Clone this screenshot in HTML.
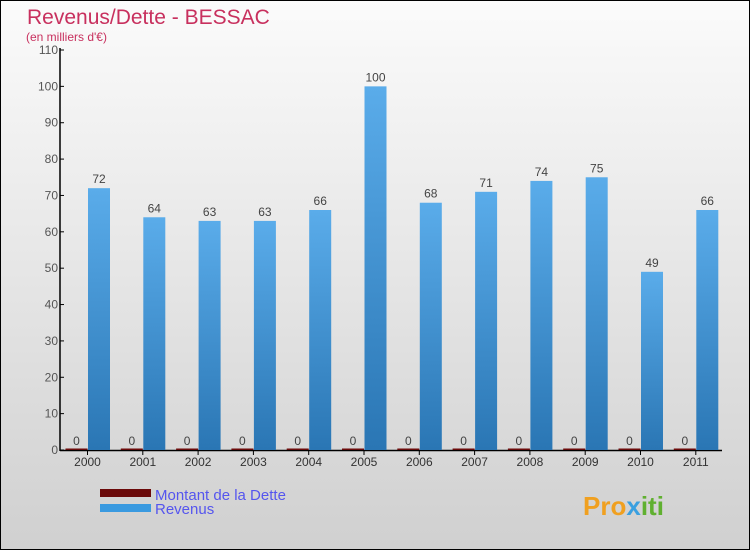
<!DOCTYPE html>
<html><head><meta charset="utf-8"><style>
html,body{margin:0;padding:0}
body{width:750px;height:550px;overflow:hidden;font-family:"Liberation Sans","DejaVu Sans",sans-serif}
</style></head><body>
<svg width="750" height="550" xmlns="http://www.w3.org/2000/svg">
<defs>
<linearGradient id="bg" x1="0" y1="0" x2="0" y2="1"><stop offset="0" stop-color="#fbfbfb"/><stop offset="1" stop-color="#d0d0d0"/></linearGradient>
<linearGradient id="bar" x1="0" y1="0" x2="0" y2="1"><stop offset="0" stop-color="#5aacea"/><stop offset="1" stop-color="#2a76b4"/></linearGradient>
</defs>
<rect x="0.5" y="0.5" width="749" height="549" fill="url(#bg)" stroke="#000"/>
<text x="27" y="24" font-size="21" fill="#c8305e">Revenus/Dette - BESSAC</text>
<text x="26" y="41" font-size="12" fill="#c8305e">(en milliers d'€)</text>
<g id="axes"></g>
<g id="bars"></g>
<rect x="100" y="489" width="51" height="8" fill="#6b0a0a"/>
<text x="155" y="500" font-size="15" fill="#5555ee">Montant de la Dette</text>
<rect x="100" y="504" width="51" height="8" fill="#3a9ae0"/>
<text x="155" y="514" font-size="15" fill="#5555ee">Revenus</text>
<text x="583" y="515" font-size="26" font-weight="bold" fill="#f0a020">Pro<tspan fill="#3aa0e0">x</tspan><tspan fill="#60b030">iti</tspan></text>
</svg>
<script>
const years=["2000","2001","2002","2003","2004","2005","2006","2007","2008","2009","2010","2011"];
const revenus=[72,64,63,63,66,100,68,71,74,75,49,66];
const dette=[0,0,0,0,0,0,0,0,0,0,0,0];
const yTicks=[0,10,20,30,40,50,60,70,80,90,100,110];
const NS="http://www.w3.org/2000/svg";
const y=v=>450-v*(400/110);
const x=i=>87.5+i*55.3;
function mk(tag,attrs,parent,text){const e=document.createElementNS(NS,tag);for(const k in attrs)e.setAttribute(k,attrs[k]);if(text!==undefined)e.textContent=text;parent.appendChild(e);return e;}
const ax=document.getElementById('axes'),bg=document.getElementById('bars');
let l=mk('line',{x1:60,y1:48,x2:60,y2:451,stroke:'#000','stroke-width':1.5},ax);


l=mk('line',{x1:60,y1:450.5,x2:722,y2:450.5,stroke:'#000','stroke-width':1.5},ax);


yTicks.forEach(t=>{
 const tl=mk('line',{x1:60,y1:y(t),x2:64,y2:y(t),stroke:'#000'},ax);
 
 
 const tx=mk('text',{x:58,y:y(t)+4,'font-size':12,fill:'#555','text-anchor':'end'},ax,t);
 
 
});
years.forEach((yr,i)=>{
 const cx=x(i);
 const tk=mk('line',{x1:cx,y1:450,x2:cx,y2:455,stroke:'#000'},ax);
 
 
 const tl=mk('text',{x:cx,y:466,'font-size':12,fill:'#333','text-anchor':'middle'},ax,yr);
 
 
 const dh=Math.max(1.5,450-y(dette[i]));
 const d=mk('rect',{x:cx-22,y:450-dh,width:22,height:dh,fill:'#6b0a0a'},bg);
 
 
 const dl=mk('text',{x:cx-11,y:y(dette[i])-5,'font-size':12,fill:'#444','text-anchor':'middle'},bg,dette[i]);
 
 
 const r=mk('rect',{x:cx+0.5,y:y(revenus[i]),width:22,height:450-y(revenus[i]),fill:'url(#bar)'},bg);
 
 
 const rl=mk('text',{x:cx+11.5,y:y(revenus[i])-5,'font-size':12,fill:'#444','text-anchor':'middle'},bg,revenus[i]);
 
 
});
</script>
</body></html>
